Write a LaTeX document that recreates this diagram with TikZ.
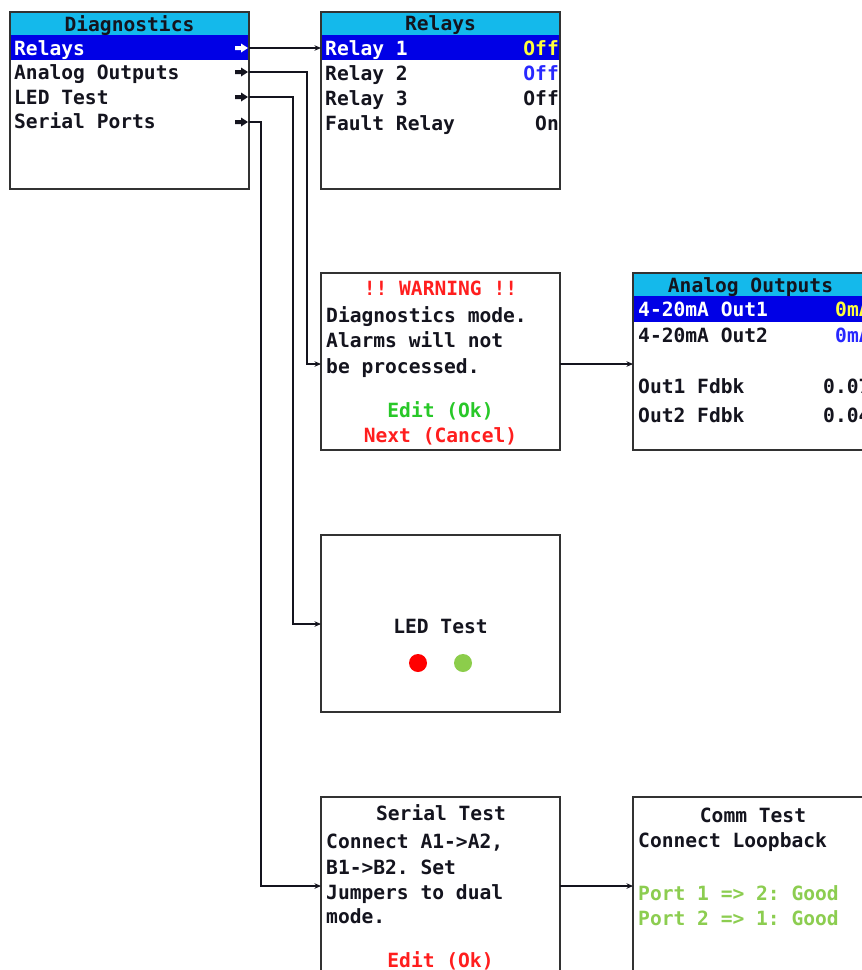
\documentclass[tikz,border=0pt]{standalone}
\usepackage{fontspec}
\newfontfamily\lcd{DejaVu Sans Mono}
\usetikzlibrary{arrows.meta}
\frenchspacing
\definecolor{cyanbar}{RGB}{20,185,235}
\definecolor{hlblue}{RGB}{0,0,230}
\definecolor{ylw}{RGB}{255,255,60}
\definecolor{bluetxt}{RGB}{40,40,255}
\definecolor{redtxt}{RGB}{255,30,30}
\definecolor{greentxt}{RGB}{40,200,40}
\definecolor{lgreen}{RGB}{140,205,80}
\definecolor{ink}{RGB}{20,20,30}
\definecolor{frame}{RGB}{50,50,50}
\definecolor{ledred}{RGB}{255,0,0}
\definecolor{ledgreen}{RGB}{140,205,75}
\begin{document}
\begin{tikzpicture}[x=1pt,y=-1pt,
  screen/.style={fill=white, minimum width=239pt, minimum height=177pt, anchor=north west, inner sep=0pt, outer sep=0pt},
  outline/.style={draw=frame, line width=1.3pt},
  bar/.style={fill=cyanbar, minimum width=239pt, minimum height=23pt, anchor=north west, inner sep=0pt, outer sep=0pt},
  hl/.style={fill=hlblue, minimum width=239pt, minimum height=25pt, anchor=north west, inner sep=0pt, outer sep=0pt},
  txt/.style={font=\lcd\bfseries\fontsize{19.6}{22}\selectfont\frenchspacing, inner sep=0pt, anchor=base west, text=ink},
  ctxt/.style={txt, anchor=base},
  rtxt/.style={txt, anchor=base east},
  conn/.style={draw=ink, line width=1.2pt, -{Stealth[length=6.5pt,width=5.5pt]}},
]
\useasboundingbox (0,0) rectangle (862,970);
\clip (0,0) rectangle (862,970);
\fill[white] (0,0) rectangle (862,970);

% ---------- screens ----------
\node[screen] (diag) at (10,12) {};
\node[screen] (relays) at (321,12) {};
\node[screen] (warn) at (321,273) {};
\node[screen] (analog) at (633,273) {};
\node[screen] (led) at (321,535) {};
\node[screen] (serial) at (321,797) {};
\node[screen] (comm) at (633,797) {};

% ---------- bars and highlights ----------
\node[bar] (diagbar) at (10,12) {};
\node[hl] (diaghl) at (10,35) {};
\node[bar] (relbar) at (321,12) {};
\node[hl] (relhl) at (321,35) {};
\node[bar] (anbar) at (633,273) {};
\node[hl, minimum height=26pt] (anhl) at (633,296) {};

% ---------- outlines ----------
\foreach \b in {diag,relays,warn,analog,led,serial,comm}
  \draw[outline] (\b.north west) rectangle (\b.south east);

% ---------- Diagnostics ----------
\node[ctxt] (dtitle) at (129.5,31) {Diagnostics};
\node[txt, text=white] (dRel) at (14,55) {Relays};
\node[txt] (dAn) at (14,79) {Analog Outputs};
\node[txt] (dLed) at (14,104) {LED Test};
\node[txt] (dSer) at (14,128) {Serial Ports};
\foreach \yy/\cc in {48/white,72/ink,97/ink,122/ink}
  \fill[\cc] (235,\yy-2) -- (241,\yy-2) -- (241,\yy-4.5) -- (248,\yy) -- (241,\yy+4.5) -- (241,\yy+2) -- (235,\yy+2) -- cycle;

% ---------- Relays ----------
\node[ctxt] (rtitle) at (440.5,30) {Relays};
\node[txt, text=white] (r1) at (325,55) {Relay 1};
\node[rtxt, text=ylw] (r1v) at (559,55) {Off};
\node[txt] (r2) at (325,80) {Relay 2};
\node[rtxt, text=bluetxt] (r2v) at (559,80) {Off};
\node[txt] (r3) at (325,105) {Relay 3};
\node[rtxt] (r3v) at (559,105) {Off};
\node[txt] (r4) at (325,130) {Fault Relay};
\node[rtxt] (r4v) at (559,130) {On};

% ---------- Warning ----------
\node[ctxt, text=redtxt] (w0) at (440.5,295) {!! WARNING !!};
\node[txt] (w1) at (326,322) {Diagnostics mode.};
\node[txt] (w2) at (326,347) {Alarms will not};
\node[txt] (w3) at (326,373) {be processed.};
\node[ctxt, text=greentxt] (w4) at (440.5,417) {Edit (Ok)};
\node[ctxt, text=redtxt] (w5) at (440.5,442) {Next (Cancel)};

% ---------- Analog Outputs ----------
\node[ctxt] (atitle) at (750.5,292) {Analog Outputs};
\node[txt, text=white] (a1) at (638,316) {4-20mA Out1};
\node[txt, text=ylw] (a1v) at (835,316) {0mA};
\node[txt] (a2) at (638,342) {4-20mA Out2};
\node[txt, text=bluetxt] (a2v) at (835,342) {0mA};
\node[txt] (a3) at (638,393) {Out1 Fdbk};
\node[txt] (a3v) at (823,393) {0.07mA};
\node[txt] (a4) at (638,422) {Out2 Fdbk};
\node[txt] (a4v) at (823,422) {0.04mA};

% ---------- LED Test ----------
\node[ctxt] (ltitle) at (440.5,633) {LED Test};
\fill[ledred] (418,663) circle (9);
\fill[ledgreen] (463,663) circle (9);

% ---------- Serial Test ----------
\node[ctxt] (stitle) at (441,820) {Serial Test};
\node[txt] (s1) at (326,848) {Connect A1->A2,};
\node[txt] (s2) at (326,874) {B1->B2. Set};
\node[txt] (s3) at (326,899) {Jumpers to dual};
\node[txt] (s4) at (326,923) {mode.};
\node[ctxt, text=redtxt] (s5) at (440.5,967) {Edit (Ok)};

% ---------- Comm Test ----------
\node[ctxt] (ctitle) at (753,822) {Comm Test};
\node[txt] (c1) at (638,847) {Connect Loopback};
\node[txt, text=lgreen] (c2) at (638,900) {Port 1 => 2: Good};
\node[txt, text=lgreen] (c3) at (638,925) {Port 2 => 1: Good};

% ---------- connectors ----------
\coordinate (yRel) at (0,48);
\coordinate (yAn) at (0,72);
\coordinate (yLed) at (0,97);
\coordinate (ySer) at (0,122);
\coordinate (xAn) at (307,0);
\coordinate (xLed) at (293,0);
\coordinate (xSer) at (261,0);
\coordinate (yWarn) at (0,364);
\coordinate (yLedIn) at (0,624);
\coordinate (ySerIn) at (0,886);

\draw[conn] (diag.east |- yRel) -- (relays.west |- yRel);
\draw[conn] (diag.east |- yAn) -- (xAn |- yAn) -- (xAn |- yWarn) -- (warn.west |- yWarn);
\draw[conn] (diag.east |- yLed) -- (xLed |- yLed) -- (xLed |- yLedIn) -- (led.west |- yLedIn);
\draw[conn] (diag.east |- ySer) -- (xSer |- ySer) -- (xSer |- ySerIn) -- (serial.west |- ySerIn);
\draw[conn] (warn.east |- yWarn) -- (analog.west |- yWarn);
\draw[conn] (serial.east |- ySerIn) -- (comm.west |- ySerIn);
\end{tikzpicture}
\end{document}
